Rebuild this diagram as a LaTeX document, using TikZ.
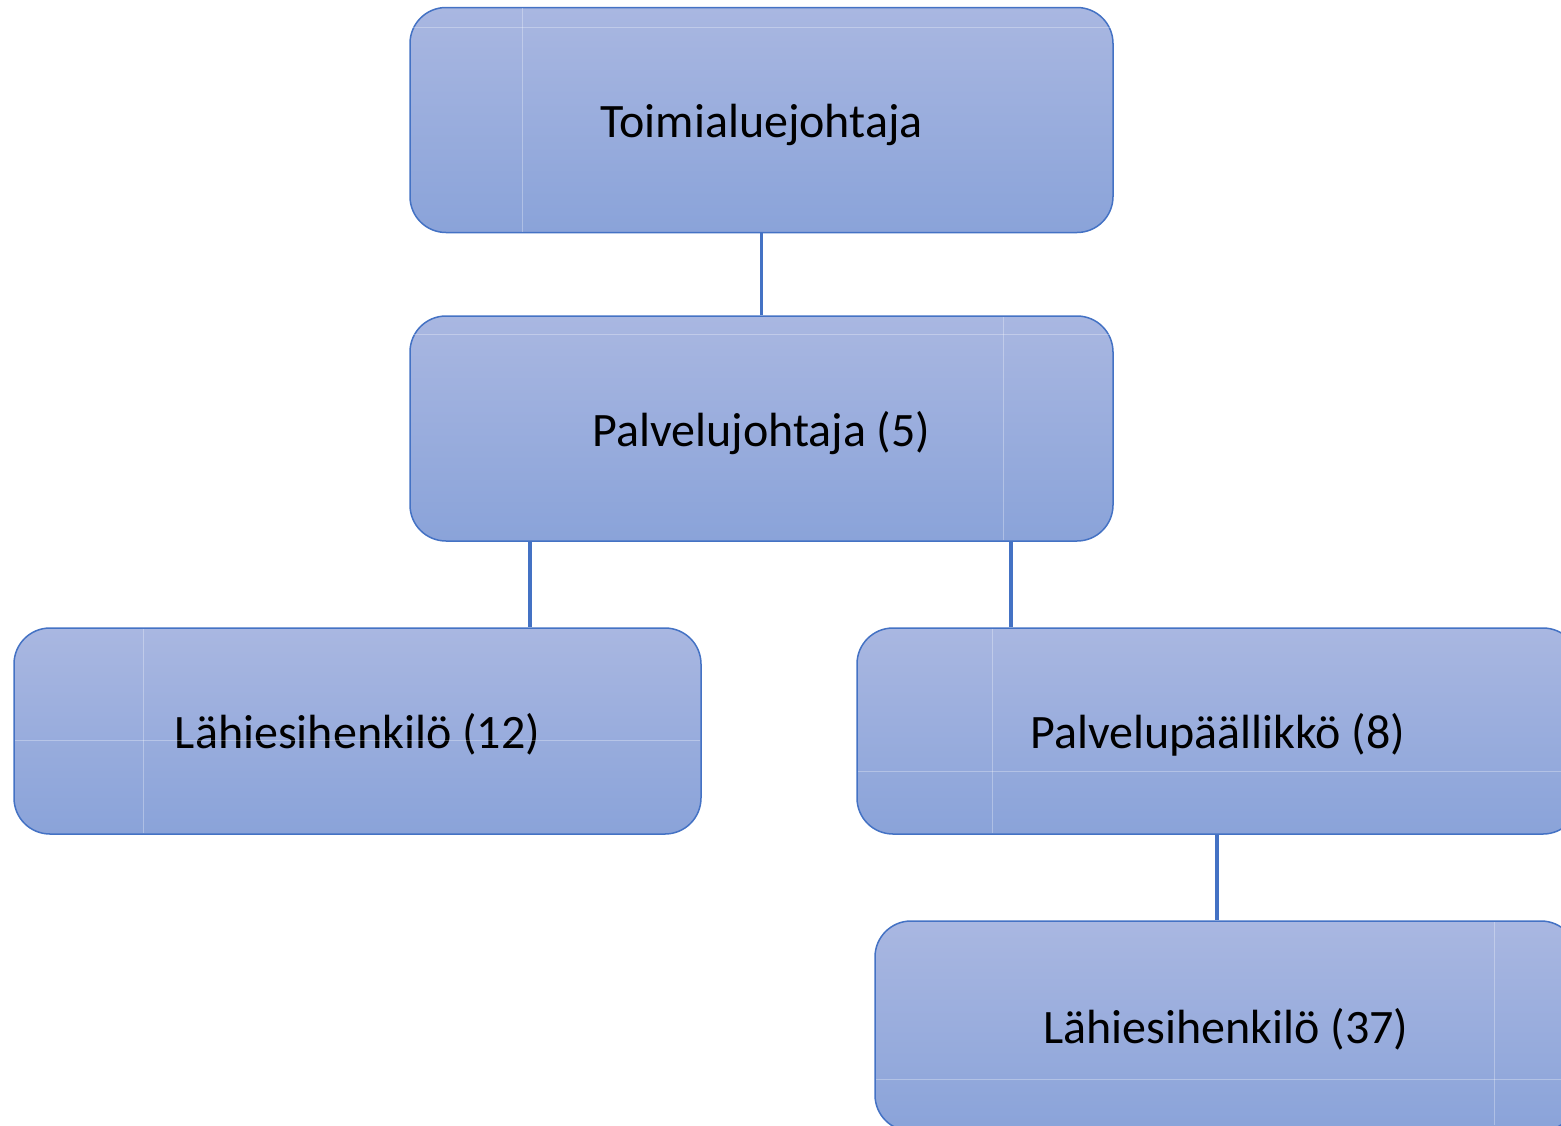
\documentclass[tikz,border=0pt]{standalone}
\usepackage{fontspec}
\setmainfont{Carlito}
\definecolor{boxtop}{HTML}{A9B7E1}
\definecolor{boxbot}{HTML}{8AA3D9}
\definecolor{edge}{HTML}{4472C4}
\tikzset{
  orgbox/.style={draw=edge, line width=1.5pt, rounded corners=36pt,
    top color=boxtop, bottom color=boxbot, shading angle=0,
    inner sep=0pt, text height=35pt, text depth=0pt,
    font=\fontsize{48}{58}\selectfont, text=black},
  link/.style={draw=edge, line width=3.5pt},
  seam/.style={draw=white, opacity=0.3, line width=1pt}
}
\begin{document}
\begin{tikzpicture}[x=1pt,y=-1pt]
\useasboundingbox (0,0) rectangle (1561,1125);
\node[orgbox, minimum width=703pt, minimum height=225pt] (a) at (761.5,120) {Toimialuejohtaja};
\node[orgbox, minimum width=703pt, minimum height=225pt] (b) at (761.5,428.5) {Palvelujohtaja (5)};
\node[orgbox, minimum width=687pt, minimum height=206pt] (c) at (357.5,731) {Lähiesihenkilö (12)};
\node[orgbox, minimum width=722pt, minimum height=206pt] (d) at (1218,731) {Palvelupäällikkö (8)};
\node[orgbox, minimum width=702pt, minimum height=210pt] (e) at (1226,1026) {Lähiesihenkilö (37)};
% tiling seams
\draw[seam] (522,8) -- (522,232);
\draw[seam] (411,27) -- (1112,27);
\draw[seam] (1003,317) -- (1003,540);
\draw[seam] (411,334) -- (1112,334);
\draw[seam] (143,629) -- (143,833);
\draw[seam] (15,740) -- (700,740);
\draw[seam] (992,629) -- (992,833);
\draw[seam] (858,771) -- (1561,771);
\draw[seam] (1494,922) -- (1494,1125);
\draw[seam] (876,1079) -- (1561,1079);
% connectors
\draw[link] (a.south) -- (b.north);
\draw[link] (b.south -| 530,0) -- (c.north -| 530,0);
\draw[link] (b.south -| 1011,0) -- (d.north -| 1011,0);
\draw[link] (d.south -| 1217,0) -- (e.north -| 1217,0);
\end{tikzpicture}
\end{document}
